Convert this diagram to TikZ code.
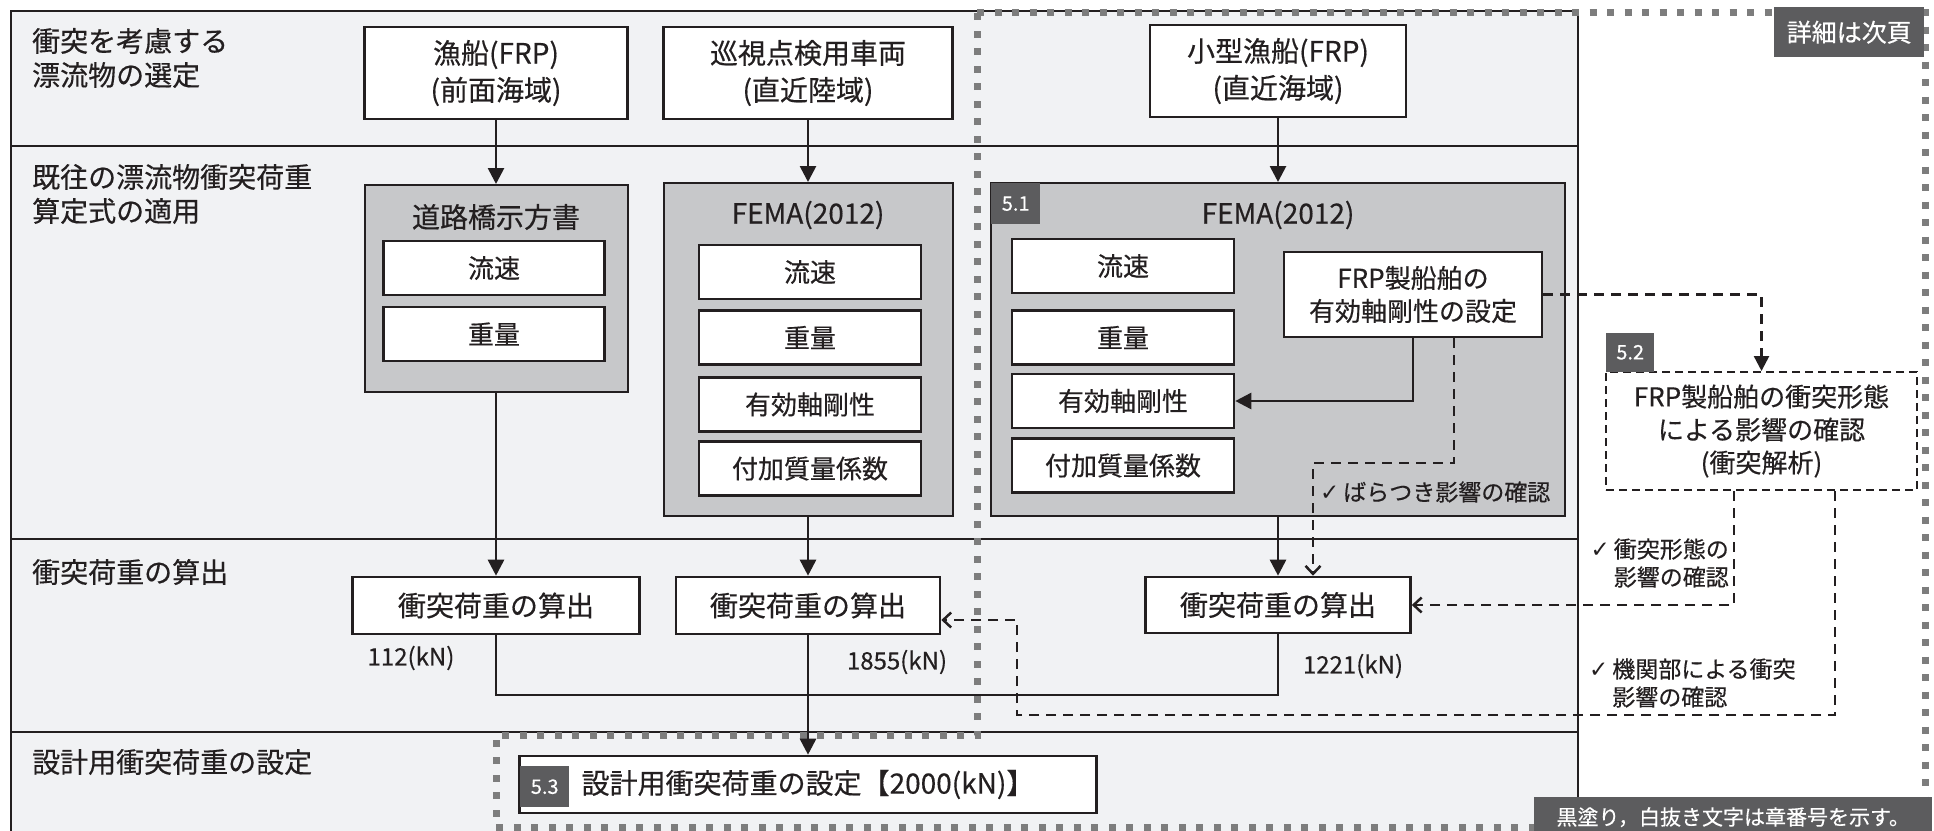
\documentclass[tikz,border=0pt]{standalone}
\usepackage{fontspec}
\setmainfont{Noto Sans CJK JP}[FakeBold=0.4]
\newfontfamily\chkfont{DejaVu Sans}
\usepackage{xcolor}
\definecolor{ink}{RGB}{35,31,32}
\definecolor{band}{RGB}{241,242,244}
\definecolor{panel}{RGB}{199,200,202}
\definecolor{tagdark}{RGB}{92,92,94}
\definecolor{dotgray}{RGB}{125,125,125}
\usetikzlibrary{arrows.meta}
\newcommand{\chk}{{\chkfont ✓}}

\begin{document}
\begin{tikzpicture}[x=1pt, y=-1pt, line join=miter,
    box/.style={draw=ink, line width=2.6pt, fill=white, inner sep=0pt, align=center, text=ink},
    panelbox/.style={draw=ink, line width=2pt, fill=panel, inner sep=0pt},
    tagbox/.style={fill=tagdark, text=white, inner sep=0pt, font=\fontsize{20}{20}\selectfont},
    big/.style={font=\fontsize{28}{37}\selectfont},
    mid/.style={font=\fontsize{26}{33}\selectfont},
    rowlabel/.style={anchor=west, align=left, text=ink, inner sep=0pt, font=\fontsize{28}{34}\selectfont},
    note/.style={align=left, text=ink, inner sep=0pt, font=\fontsize{23}{28}\selectfont},
    val/.style={text=ink, inner sep=0pt, font=\fontsize{24}{24}\selectfont},
    flow/.style={draw=ink, line width=2.7pt, -{Triangle[length=16pt,width=16pt]}},
    chain/.style={draw=ink, line width=2.7pt},
    dashflow/.style={draw=ink, line width=2.5pt, dash pattern=on 10pt off 7pt, -{Straight Barb[length=8pt,width=15pt,line width=2.5pt]}},
    dashfill/.style={draw=ink, line width=2.5pt, dash pattern=on 10pt off 7pt, -{Triangle[length=15pt,width=15pt]}}]
    \useasboundingbox (0,0) rectangle (1934,830);
    \fill[white] (0,0) rectangle (1934,830);
    % frame and bands
    \draw[draw=ink, line width=2.5pt, fill=band] (11,11) rectangle (1578,860);
    \foreach \y in {146,539,732}
        \draw[draw=ink, line width=2.5pt] (11,\y) -- (1578,\y);
    \node[rowlabel] (sel) at (32,58) {衝突を考慮する\\漂流物の選定};
    \node[rowlabel] (app) at (32,194) {既往の漂流物衝突荷重\\算定式の適用};
    \node[rowlabel] (calc) at (32,572) {衝突荷重の算出};
    \node[rowlabel] (des) at (32,762) {設計用衝突荷重の設定};
    % chapter region
    \draw[dotgray, line width=7pt, dash pattern=on 7pt off 10.5pt] (977,12) -- (1925,12) -- (1925,827) -- (496,827) -- (496,735) -- (977,735) -- cycle;

    % drifting objects
    \node[box, big, minimum width=263, minimum height=92] (gyo) at (496,73) {漁船(FRP)\\(前面海域)};
    \node[box, big, minimum width=289, minimum height=92] (junshi) at (808,73) {巡視点検用車両\\(直近陸域)};
    \node[box, big, minimum width=256, minimum height=92] (kogata) at (1278,71) {小型漁船(FRP)\\(直近海域)};

    % formulas
    \node[panelbox, minimum width=263, minimum height=207] (road) at (496,288.5) {};
    \node[big, text=ink] (roadT) at (496,217) {道路橋示方書};
    \node[box, mid, minimum width=221, minimum height=54] (roadV) at (494,268) {流速};
    \node[box, mid, minimum width=221, minimum height=54] (roadW) at (494,334) {重量};

    \node[panelbox, minimum width=289, minimum height=333] (femaA) at (808,349.5) {};
    \node[big, text=ink] (femaAT) at (808,215) {FEMA(2012)};
    \node[box, mid, minimum width=222, minimum height=54] (femaAV) at (810,272) {流速};
    \node[box, mid, minimum width=222, minimum height=54] (femaAW) at (810,337.5) {重量};
    \node[box, mid, minimum width=222, minimum height=54] (femaAK) at (810,404.5) {有効軸剛性};
    \node[box, mid, minimum width=222, minimum height=54] (femaAM) at (810,468.5) {付加質量係数};

    \node[panelbox, minimum width=574, minimum height=333] (femaB) at (1278,349.5) {};
    \node[big, text=ink] (femaBT) at (1278,215) {FEMA(2012)};
    \node[box, mid, minimum width=222, minimum height=54] (femaBV) at (1123,266) {流速};
    \node[box, mid, minimum width=222, minimum height=54] (femaBW) at (1123,337.5) {重量};
    \node[box, mid, minimum width=222, minimum height=54] (femaBK) at (1123,401) {有効軸剛性};
    \node[box, mid, minimum width=222, minimum height=54] (femaBM) at (1123,465.5) {付加質量係数};
    \node[box, mid, minimum width=258, minimum height=85] (frpB) at (1413,294.5) {FRP製船舶の\\有効軸剛性の設定};
    \node[note, anchor=west] (spread) at (1320,492) {\chk\,ばらつき影響の確認};

    % collision analysis
    \node[box, mid, line width=2pt, dash pattern=on 8pt off 5pt, minimum width=311, minimum height=118] (kakunin) at (1761.5,431) {FRP製船舶の衝突形態\\による影響の確認\\(衝突解析)};

    % collision loads
    \node[box, big, minimum width=287, minimum height=57] (calc1) at (496,605.5) {衝突荷重の算出};
    \node[box, big, minimum width=264, minimum height=57] (calc2) at (808,605.5) {衝突荷重の算出};
    \node[box, big, minimum width=265, minimum height=56] (calc3) at (1278,605) {衝突荷重の算出};
    \node[val] (v1) at (411,658) {112(kN)};
    \node[val] (v2) at (897,662) {1855(kN)};
    \node[val] (v3) at (1353,666) {1221(kN)};
    \node[note, anchor=east] (shape) at (1729,563) {\chk\,衝突形態の\\\phantom{\chk\,}影響の確認};
    \node[note, anchor=west] (engine) at (1589,683) {\chk\,機関部による衝突\\\phantom{\chk\,}影響の確認};

    % design load
    \node[box, big, minimum width=577, minimum height=57] (setbox) at (808,784.5) {設計用衝突荷重の設定【2000(kN)】};

    % connectors
    \draw[flow] (gyo.south) -- (road.north);
    \draw[flow] (junshi.south) -- (femaA.north);
    \draw[flow] (kogata.south) -- (femaB.north);
    \draw[flow] (road.south) -- (calc1.north);
    \draw[flow] (femaA.south) -- (calc2.north);
    \draw[flow] (femaB.south) -- (calc3.north);
    \draw[flow] (frpB.south) |- (femaBK.east);
    \coordinate (j1) at (808,695);
    \draw[chain] (calc1.south) |- (calc3.south |- j1) -- (calc3.south);
    \draw[flow] (calc2.south) -- (setbox.north);

    \draw[dashfill] (frpB.east) -| (kakunin.north);
    \coordinate (b1) at (1454,463);
    \coordinate (b2) at (1313,463);
    \draw[dashflow] (frpB.south -| b1) -- (b1) -- (b2) -- (b2 |- calc3.north);
    \coordinate (c1) at (1734,0);
    \draw[dashflow] (kakunin.south -| c1) |- (calc3.east);
    \coordinate (d1) at (1835,715);
    \coordinate (d2) at (1017,715);
    \coordinate (d3) at (1017,620);
    \draw[dashflow] (kakunin.south -| d1) -- (d1) -- (d2) -- (d3) -- (calc2.east |- d3);

    % chapter tags
    \node[tagbox, anchor=north west, minimum width=49, minimum height=41] (t51) at (991,183) {5.1};
    \node[tagbox, anchor=south west, minimum width=48, minimum height=39] (t52) at (1606,372) {5.2};
    \node[tagbox, anchor=north west, minimum width=49, minimum height=41] (t53) at (520,766) {5.3};
    \node[tagbox, anchor=north west, minimum width=150, minimum height=50, font=\fontsize{25}{25}\selectfont] (next) at (1774,7) {詳細は次頁};
    \node[tagbox, anchor=north west, minimum width=398, minimum height=40, font=\fontsize{21}{21}\selectfont] (legend) at (1534,797) {黒塗り，白抜き文字は章番号を示す。};
\end{tikzpicture}
\end{document}
